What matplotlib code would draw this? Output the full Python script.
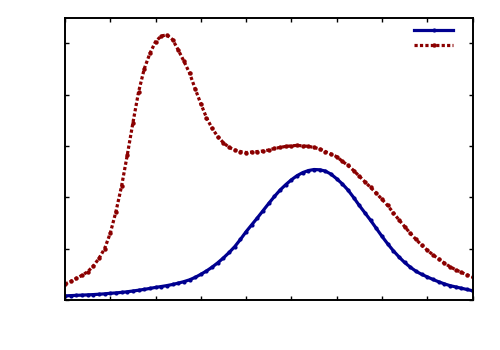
import matplotlib
matplotlib.use('Agg')
import matplotlib.pyplot as plt

# --- DATA ---
X = [0.000, 0.125, 0.250, 0.375, 0.500, 0.625, 0.750, 0.875,
     1.000, 1.125, 1.250, 1.375, 1.500, 1.625, 1.750, 1.875,
     2.000, 2.125, 2.250, 2.375, 2.500, 2.625, 2.750, 2.875,
     3.000, 3.125, 3.250, 3.375, 3.500, 3.625, 3.750, 3.875,
     4.000, 4.125, 4.250, 4.375, 4.500, 4.625, 4.750, 4.875,
     5.000, 5.125, 5.250, 5.375, 5.500, 5.625, 5.750, 5.875,
     6.000, 6.125, 6.250, 6.375, 6.500, 6.625, 6.750, 6.875,
     7.000, 7.125, 7.250, 7.375, 7.500, 7.625, 7.750, 7.875,
     8.000, 8.125, 8.250, 8.375, 8.500, 8.625, 8.750, 8.875,
     9.000]

BLUE = [0.080, 0.085, 0.090, 0.095, 0.100, 0.105, 0.112, 0.120,
        0.130, 0.138, 0.148, 0.160, 0.175, 0.190, 0.207, 0.225,
        0.245, 0.262, 0.280, 0.302, 0.328, 0.357, 0.392, 0.440,
        0.500, 0.565, 0.640, 0.725, 0.820, 0.925, 1.040, 1.180,
        1.330, 1.465, 1.600, 1.740, 1.880, 2.015, 2.140, 2.245,
        2.340, 2.420, 2.480, 2.520, 2.540, 2.535, 2.510, 2.450,
        2.360, 2.260, 2.140, 1.995, 1.840, 1.695, 1.550, 1.395,
        1.240, 1.095, 0.960, 0.840, 0.730, 0.640, 0.560, 0.500,
        0.450, 0.400, 0.355, 0.315, 0.280, 0.255, 0.230, 0.205,
        0.180]

RED = [0.31, 0.36, 0.42, 0.48, 0.55, 0.66, 0.81, 1.00,
       1.30, 1.72, 2.22, 2.82, 3.45, 4.05, 4.50, 4.80,
       5.03, 5.14, 5.16, 5.07, 4.87, 4.65, 4.42, 4.11,
       3.82, 3.55, 3.34, 3.18, 3.06, 2.97, 2.92, 2.89,
       2.87, 2.88, 2.89, 2.90, 2.92, 2.95, 2.97, 2.99,
       3.00, 3.01, 3.00, 2.99, 2.97, 2.94, 2.89, 2.84,
       2.79, 2.70, 2.62, 2.52, 2.41, 2.30, 2.19, 2.08,
       1.96, 1.84, 1.70, 1.56, 1.43, 1.30, 1.18, 1.07,
       0.97, 0.88, 0.80, 0.72, 0.65, 0.59, 0.54, 0.49,
       0.45]

X_TICKS = [0, 1, 2, 3, 4, 5, 6, 7, 8, 9]
Y_TICKS = [0, 1, 2, 3, 4, 5]

BLUE_COLOR = '#000090'
RED_COLOR = '#8b0000'

fig = plt.figure(figsize=(5, 3.5), dpi=100)
ax = fig.add_axes([0.13, 0.1429, 0.815, 0.8057])

l1, = ax.plot(X, BLUE, color=BLUE_COLOR, linewidth=2.3, marker='o',
              markersize=3, markeredgewidth=0)
l2, = ax.plot(X, RED, color=RED_COLOR, linewidth=2.3, linestyle=(0, (1, 0.7)),
              marker='o', markersize=3.2, markeredgewidth=0)

ax.set_xlim(0, 9)
ax.set_ylim(0, 5.49)
ax.set_xticks(X_TICKS)
ax.set_yticks(Y_TICKS)
ax.tick_params(direction='in', length=3, width=1, top=True, right=True,
               labelbottom=False, labelleft=False)
for s in ax.spines.values():
    s.set_linewidth(1.4)

ax.legend([l1, l2], [' ', ' '], loc='upper right', frameon=False,
          handlelength=2.8, numpoints=1, handletextpad=0.3,
          bbox_to_anchor=(0.997, 1.012), borderaxespad=0.3, labelspacing=0.07)

fig.savefig('out.png', dpi=100)
